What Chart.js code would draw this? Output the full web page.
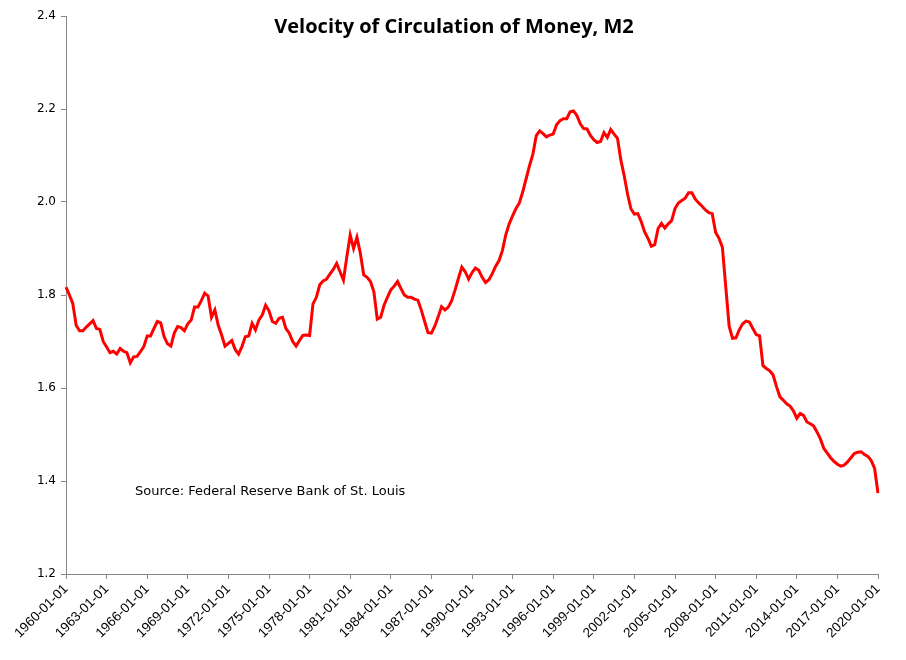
<!DOCTYPE html>
<html>
<head>
<meta charset="utf-8">
<script src="https://cdn.jsdelivr.net/npm/chart.js@4.4.1/dist/chart.umd.min.js"></script>
<style>
  html, body { margin: 0; padding: 0; background: #ffffff; }
  #wrap { width: 906px; height: 660px; position: relative; }
</style>
</head>
<body>
<div id="wrap"><canvas id="c" width="906" height="660"></canvas></div>
<script>
// ---- data ----
const chartTitle = "Velocity of Circulation of Money, M2";
const sourceNote = "Source: Federal Reserve Bank of St. Louis";
const firstYear = 1960;
const lastYear = 2020;
const quarterMonths = ["01", "04", "07", "10"];
const labelEvery = 12; // one label every 3 years
const yTicks = { min: 1.2, max: 2.4, step: 0.2 };

// quarterly M2 velocity, 1960Q1 .. 2020Q1
const m2Velocity = [
  1.817, 1.800, 1.782, 1.735,  1.723, 1.723, 1.731, 1.738,  1.745, 1.728, 1.726, 1.700,  // 1960-62
  1.688, 1.676, 1.679, 1.673,  1.685, 1.679, 1.676, 1.654,  1.667, 1.668, 1.678, 1.689,  // 1963-65
  1.712, 1.712, 1.728, 1.743,  1.740, 1.710, 1.695, 1.690,  1.718, 1.732, 1.730, 1.723,  // 1966-68
  1.738, 1.746, 1.774, 1.774,  1.788, 1.804, 1.798, 1.752,  1.768, 1.735, 1.714, 1.690,  // 1969-71
  1.696, 1.702, 1.683, 1.673,  1.689, 1.710, 1.712, 1.739,  1.725, 1.746, 1.757, 1.778,  // 1972-74
  1.766, 1.743, 1.739, 1.750,  1.752, 1.728, 1.718, 1.700,  1.690, 1.702, 1.713, 1.714,  // 1975-77
  1.713, 1.781, 1.795, 1.822,  1.830, 1.834, 1.845, 1.855,  1.868, 1.850, 1.832, 1.882,  // 1978-80
  1.929, 1.900, 1.924, 1.890,  1.843, 1.838, 1.829, 1.807,  1.748, 1.752, 1.778, 1.795,  // 1981-83
  1.811, 1.819, 1.829, 1.814,  1.800, 1.795, 1.795, 1.791,  1.789, 1.768, 1.743, 1.719,  // 1984-86
  1.718, 1.733, 1.753, 1.775,  1.768, 1.774, 1.788, 1.811,  1.836, 1.860, 1.850, 1.834,  // 1987-89
  1.848, 1.858, 1.853, 1.838,  1.827, 1.833, 1.846, 1.862,  1.874, 1.896, 1.930, 1.953,  // 1990-92
  1.970, 1.986, 1.998, 2.022,  2.050, 2.078, 2.103, 2.143,  2.153, 2.147, 2.140, 2.144,  // 1993-95
  2.146, 2.166, 2.175, 2.179,  2.179, 2.194, 2.196, 2.186,  2.168, 2.158, 2.157, 2.143,  // 1996-98
  2.134, 2.128, 2.130, 2.149,  2.139, 2.156, 2.146, 2.137,  2.090, 2.056, 2.016, 1.985,  // 1999-01
  1.974, 1.975, 1.958, 1.936,  1.922, 1.905, 1.908, 1.943,  1.954, 1.944, 1.953, 1.960,  // 2002-04
  1.986, 1.998, 2.003, 2.008,  2.020, 2.020, 2.006, 1.998,  1.991, 1.983, 1.977, 1.975,  // 2005-07
  1.935, 1.922, 1.903, 1.818,  1.733, 1.707, 1.708, 1.725,  1.738, 1.744, 1.742, 1.728,  // 2008-10
  1.715, 1.712, 1.648, 1.642,  1.637, 1.628, 1.603, 1.581,  1.574, 1.566, 1.561, 1.551,  // 2011-13
  1.535, 1.545, 1.541, 1.527,  1.523, 1.518, 1.505, 1.490,  1.470, 1.460, 1.450, 1.442,  // 2014-16
  1.436, 1.432, 1.434, 1.441,  1.450, 1.459, 1.462, 1.463,  1.457, 1.453, 1.444, 1.427,  // 2017-19
  1.374                                                                                   // 2020
];

// category labels: one per quarter
const quarterLabels = [];
for (let y = firstYear; y <= lastYear; y++) {
  for (const m of quarterMonths) {
    if (y === lastYear && m !== "01") break;
    quarterLabels.push(y + "-" + m + "-01");
  }
}

// ---- overlay texts (title inside plot, source note) ----
const overlayText = {
  id: "overlayText",
  afterDraw(chart) {
    const ctx = chart.ctx;
    ctx.save();
    ctx.fillStyle = "#000000";
    ctx.textBaseline = "middle";
    ctx.textAlign = "center";
    ctx.font = 'bold 20px "Open Sans", sans-serif';
    ctx.fillText(chartTitle, 454, 27);
    ctx.textAlign = "left";
    ctx.font = '13px "DejaVu Sans", sans-serif';
    ctx.fillText(sourceNote, 135, 492);
    ctx.restore();
  }
};

const axisGrey = "#868686";

new Chart(document.getElementById("c"), {
  type: "line",
  data: {
    labels: quarterLabels,
    datasets: [{
      data: m2Velocity,
      borderColor: "#ff0000",
      borderWidth: 3,
      pointRadius: 0,
      tension: 0,
      fill: false
    }]
  },
  options: {
    responsive: false,
    animation: false,
    devicePixelRatio: 1,
    layout: { padding: { top: 16, right: 28, bottom: 0, left: 0 } },
    plugins: {
      legend: { display: false },
      tooltip: { enabled: false },
      title: { display: false }
    },
    scales: {
      x: {
        type: "category",
        offset: false,
        afterFit(s) { s.height = 86; },
        border: { display: true, color: axisGrey, width: 1 },
        grid: {
          display: true,
          drawOnChartArea: false,
          drawTicks: true,
          tickLength: 5,
          color: axisGrey
        },
        ticks: {
          autoSkip: false,
          minRotation: 45,
          maxRotation: 45,
          padding: 2,
          color: "#000000",
          font: { family: '"Liberation Sans", sans-serif', size: 13.5 },
          callback(value, index) {
            return index % labelEvery === 0 ? quarterLabels[index] : null;
          }
        }
      },
      y: {
        min: yTicks.min,
        max: yTicks.max,
        afterFit(s) { s.width = 66; },
        border: { display: true, color: axisGrey, width: 1 },
        grid: {
          display: true,
          drawOnChartArea: false,
          drawTicks: true,
          tickLength: 5,
          color: axisGrey
        },
        ticks: {
          stepSize: yTicks.step,
          padding: 5,
          color: "#000000",
          font: { family: '"DejaVu Sans", sans-serif', size: 12 },
          callback(v) { return Number(v).toFixed(1); }
        }
      }
    }
  },
  plugins: [overlayText]
});
</script>
</body>
</html>
